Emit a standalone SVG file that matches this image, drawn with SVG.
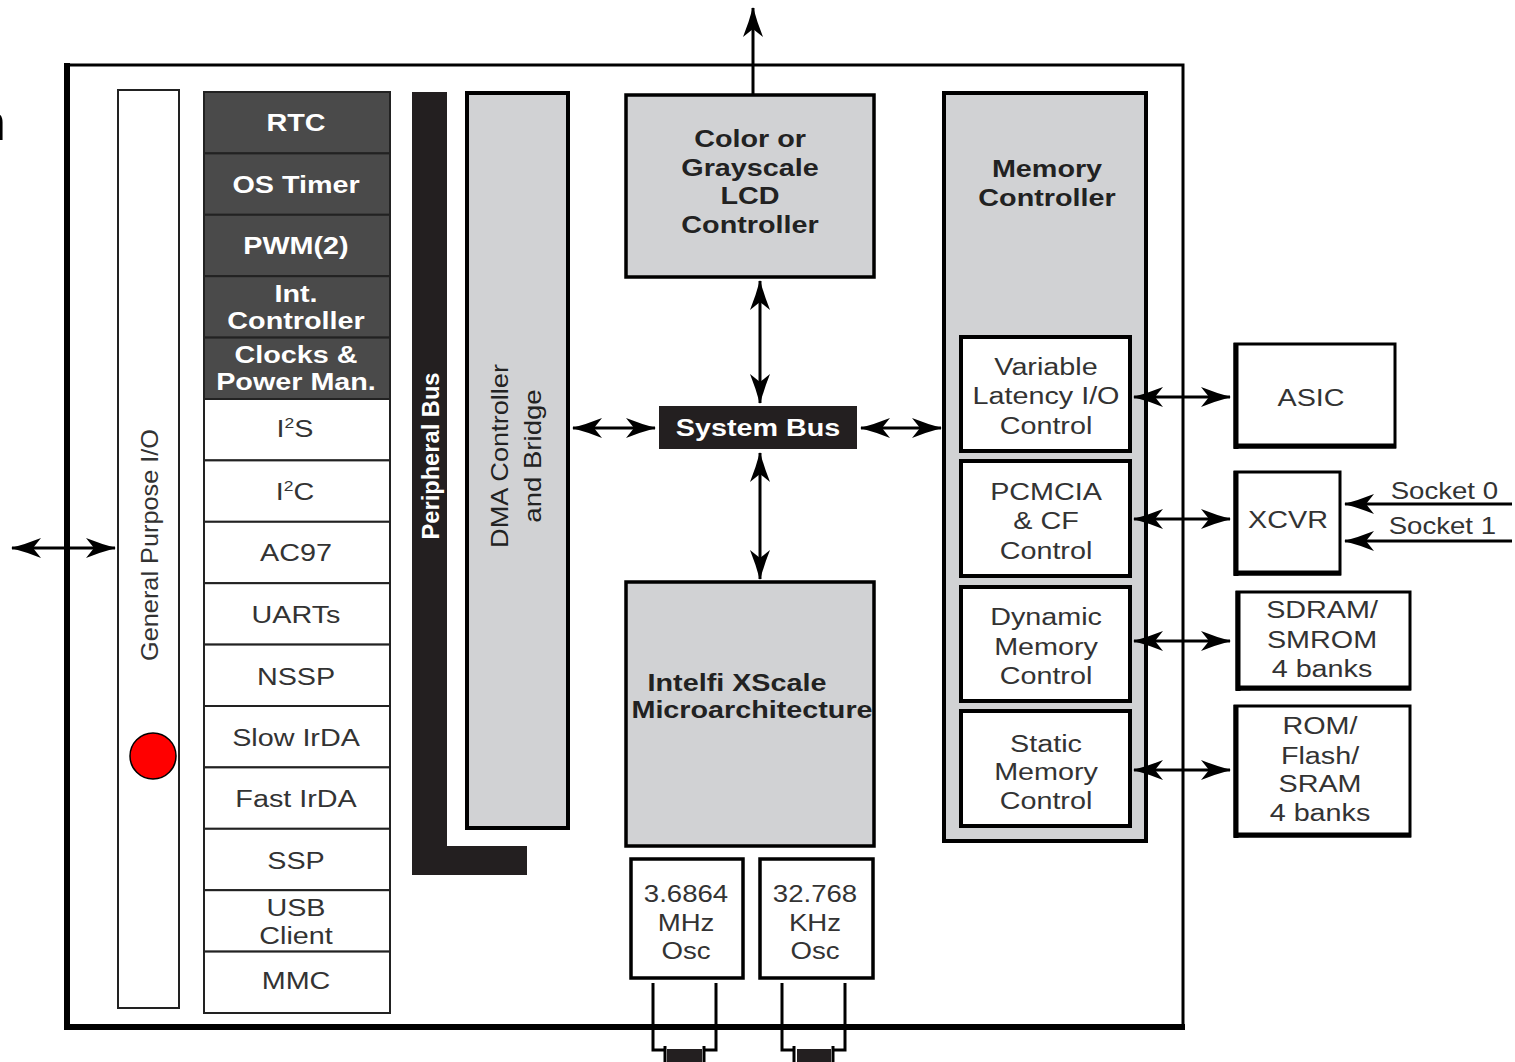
<svg xmlns="http://www.w3.org/2000/svg" width="1515" height="1062" viewBox="0 0 1515 1062">
<style>
text{font-family:"Liberation Sans",Arial,sans-serif;font-size:23px;text-anchor:middle}
.n{fill:#333}
.b{font-weight:bold;fill:#222}
.w{font-weight:bold;fill:#fff}
.dk{fill:#4a4a4a;stroke:#222;stroke-width:2}
.wc{fill:#fff;stroke:#222;stroke-width:2}
.gb{fill:#d1d2d4;stroke:#000;stroke-width:4}
.wb{fill:#fff;stroke:#000;stroke-width:4}
.ln{stroke:#000;stroke-width:3;fill:none}
.ar{stroke:#000;stroke-width:3;fill:none;marker-start:url(#ah);marker-end:url(#ah)}
.ae{stroke:#000;stroke-width:3;fill:none;marker-end:url(#ah)}
</style>
<defs>
<marker id="ah" viewBox="0 0 30 20" refX="29" refY="10" markerWidth="30" markerHeight="20" markerUnits="userSpaceOnUse" orient="auto-start-reverse">
<path d="M0,0 Q15,6 30,10 Q15,14 0,20 L8,10 Z" fill="#000"/>
</marker>
</defs>
<rect width="1515" height="1062" fill="#fff"/>
<text x="-22" y="140" style="font-size:50px;text-anchor:start" fill="#000">n</text>

<g id="outer">
<rect x="67" y="65" width="1116" height="962" fill="none" stroke="#000" stroke-width="3"/>
<line x1="67" y1="63" x2="67" y2="1030" stroke="#000" stroke-width="6"/>
<line x1="65" y1="1027" x2="1185" y2="1027" stroke="#000" stroke-width="6"/>
</g>

<g id="gpio">
<rect x="118" y="90" width="61" height="918" fill="#fff" stroke="#222" stroke-width="2"/>
<text class="n" transform="translate(158,545) rotate(-90) scale(1.1,1)">General Purpose I/O</text>
</g>
<g id="marker-dot"><circle cx="153" cy="756" r="23" fill="#f00" stroke="#000" stroke-width="1.5"/></g>

<g id="rtc"><rect class="dk" x="204" y="92" width="186" height="61.4"/><text class="w" transform="translate(296,131) scale(1.25,1)">RTC</text></g>
<g id="ostimer"><rect class="dk" x="204" y="153.4" width="186" height="61.4"/><text class="w" transform="translate(296,193) scale(1.25,1)">OS Timer</text></g>
<g id="pwm"><rect class="dk" x="204" y="214.8" width="186" height="61.4"/><text class="w" transform="translate(296,254) scale(1.25,1)">PWM(2)</text></g>
<g id="intctrl"><rect class="dk" x="204" y="276.2" width="186" height="61.4"/><text class="w" transform="translate(296,302) scale(1.25,1)">Int.</text><text class="w" transform="translate(296,329) scale(1.25,1)">Controller</text></g>
<g id="clocks"><rect class="dk" x="204" y="337.6" width="186" height="61.4"/><text class="w" transform="translate(296,363) scale(1.25,1)">Clocks &amp;</text><text class="w" transform="translate(296,390) scale(1.25,1)">Power Man.</text></g>
<g id="i2s"><rect class="wc" x="204" y="399" width="186" height="61.4"/><text class="n" transform="translate(295,437) scale(1.25,1)">I<tspan dy="-9" style="font-size:14px">2</tspan><tspan dy="9">S</tspan></text></g>
<g id="i2c"><rect class="wc" x="204" y="460.4" width="186" height="61.4"/><text class="n" transform="translate(295,500) scale(1.25,1)">I<tspan dy="-9" style="font-size:14px">2</tspan><tspan dy="9">C</tspan></text></g>
<g id="ac97"><rect class="wc" x="204" y="521.8" width="186" height="61.4"/><text class="n" transform="translate(296,561) scale(1.25,1)">AC97</text></g>
<g id="uarts"><rect class="wc" x="204" y="583.2" width="186" height="61.4"/><text class="n" transform="translate(296,623) scale(1.25,1)">UARTs</text></g>
<g id="nssp"><rect class="wc" x="204" y="644.6" width="186" height="61.4"/><text class="n" transform="translate(296,685) scale(1.25,1)">NSSP</text></g>
<g id="slowirda"><rect class="wc" x="204" y="706" width="186" height="61.4"/><text class="n" transform="translate(296,746) scale(1.25,1)">Slow IrDA</text></g>
<g id="fastirda"><rect class="wc" x="204" y="767.4" width="186" height="61.4"/><text class="n" transform="translate(296,807) scale(1.25,1)">Fast IrDA</text></g>
<g id="ssp"><rect class="wc" x="204" y="828.8" width="186" height="61.4"/><text class="n" transform="translate(296,869) scale(1.25,1)">SSP</text></g>
<g id="usb"><rect class="wc" x="204" y="890.2" width="186" height="61.4"/><text class="n" transform="translate(296,916) scale(1.25,1)">USB</text><text class="n" transform="translate(296,944) scale(1.25,1)">Client</text></g>
<g id="mmc"><rect class="wc" x="204" y="951.6" width="186" height="61.4"/><text class="n" transform="translate(296,989) scale(1.25,1)">MMC</text></g>

<g id="periphbus">
<path d="M412,92 H447 V846 H527 V875 H412 Z" fill="#231f20"/>
<text class="w" transform="translate(439,456) rotate(-90) scale(1.03,1)">Peripheral Bus</text>
</g>

<g id="dma">
<rect class="gb" x="467" y="93" width="101" height="735"/>
<text transform="translate(508,456) rotate(-90) scale(1.18,1)" fill="#222">DMA Controller</text>
<text transform="translate(541,456) rotate(-90) scale(1.2,1)" fill="#222">and Bridge</text>
</g>

<g id="lcd">
<rect class="gb" x="626" y="95" width="248" height="182" style="stroke-width:3.5"/>
<text class="b" transform="translate(750,147) scale(1.25,1)">Color or</text>
<text class="b" transform="translate(750,176) scale(1.25,1)">Grayscale</text>
<text class="b" transform="translate(750,204) scale(1.25,1)">LCD</text>
<text class="b" transform="translate(750,233) scale(1.25,1)">Controller</text>
</g>

<g id="sysbus">
<rect x="659" y="406" width="198" height="43" fill="#231f20"/>
<text class="w" transform="translate(758,436) scale(1.25,1)">System Bus</text>
</g>

<g id="xscale">
<rect class="gb" x="626" y="582" width="248" height="264" style="stroke-width:3.5"/>
<text class="b" transform="translate(737,691) scale(1.25,1)">Intelfi XScale</text>
<text class="b" transform="translate(752,718) scale(1.25,1)">Microarchitecture</text>
</g>

<g id="osc1">
<rect x="631" y="859" width="112" height="119" fill="#fff" stroke="#000" stroke-width="3.5"/>
<text class="n" transform="translate(686,902) scale(1.2,1)">3.6864</text>
<text class="n" transform="translate(686,931) scale(1.2,1)">MHz</text>
<text class="n" transform="translate(686,959) scale(1.2,1)">Osc</text>
</g>
<g id="osc2">
<rect x="760" y="859" width="113" height="119" fill="#fff" stroke="#000" stroke-width="3.5"/>
<text class="n" transform="translate(815,902) scale(1.2,1)">32.768</text>
<text class="n" transform="translate(815,931) scale(1.2,1)">KHz</text>
<text class="n" transform="translate(815,959) scale(1.2,1)">Osc</text>
</g>
<g id="crystal1">
<path class="ln" d="M653,983 V1050 H664 M716,983 V1050 H705"/>
<rect x="667" y="1049" width="35" height="13" fill="#231f20"/>
<line x1="665" y1="1046" x2="665" y2="1062" stroke="#000" stroke-width="3"/>
<line x1="704" y1="1046" x2="704" y2="1062" stroke="#000" stroke-width="3"/>
</g>
<g id="crystal2">
<path class="ln" d="M782,983 V1050 H793 M845,983 V1050 H834"/>
<rect x="797" y="1049" width="34" height="13" fill="#231f20"/>
<line x1="794" y1="1046" x2="794" y2="1062" stroke="#000" stroke-width="3"/>
<line x1="833" y1="1046" x2="833" y2="1062" stroke="#000" stroke-width="3"/>
</g>

<g id="memctrl">
<rect class="gb" x="944" y="93" width="202" height="748"/>
<text class="b" transform="translate(1047,177) scale(1.25,1)">Memory</text>
<text class="b" transform="translate(1047,206) scale(1.25,1)">Controller</text>
</g>
<g id="vlio"><rect class="wb" x="961" y="337" width="169" height="114"/>
<text class="n" transform="translate(1046,375) scale(1.25,1)">Variable</text><text class="n" transform="translate(1046,404) scale(1.25,1)">Latency I/O</text><text class="n" transform="translate(1046,434) scale(1.25,1)">Control</text></g>
<g id="pcmcia"><rect class="wb" x="961" y="461" width="169" height="115"/>
<text class="n" transform="translate(1046,500) scale(1.25,1)">PCMCIA</text><text class="n" transform="translate(1046,529) scale(1.25,1)">&amp; CF</text><text class="n" transform="translate(1046,559) scale(1.25,1)">Control</text></g>
<g id="dynmem"><rect class="wb" x="961" y="587" width="169" height="114"/>
<text class="n" transform="translate(1046,625) scale(1.25,1)">Dynamic</text><text class="n" transform="translate(1046,655) scale(1.25,1)">Memory</text><text class="n" transform="translate(1046,684) scale(1.25,1)">Control</text></g>
<g id="statmem"><rect class="wb" x="961" y="711" width="169" height="115"/>
<text class="n" transform="translate(1046,752) scale(1.25,1)">Static</text><text class="n" transform="translate(1046,780) scale(1.25,1)">Memory</text><text class="n" transform="translate(1046,809) scale(1.25,1)">Control</text></g>

<g id="asic"><rect x="1235" y="344" width="160" height="103" fill="#fff" stroke="#000" stroke-width="3"/>
<line x1="1236" y1="343" x2="1236" y2="449" stroke="#000" stroke-width="5"/><line x1="1234" y1="446" x2="1396" y2="446" stroke="#000" stroke-width="5"/>
<text class="n" transform="translate(1311,406) scale(1.25,1)">ASIC</text></g>
<g id="xcvr"><rect x="1235" y="472" width="105" height="102" fill="#fff" stroke="#000" stroke-width="3"/>
<line x1="1236" y1="471" x2="1236" y2="576" stroke="#000" stroke-width="5"/><line x1="1234" y1="573" x2="1341" y2="573" stroke="#000" stroke-width="5"/>
<text class="n" transform="translate(1288,528) scale(1.25,1)">XCVR</text></g>
<g id="sdram"><rect x="1237" y="592" width="173" height="97" fill="#fff" stroke="#000" stroke-width="3"/>
<line x1="1238" y1="591" x2="1238" y2="691" stroke="#000" stroke-width="5"/><line x1="1236" y1="688" x2="1411" y2="688" stroke="#000" stroke-width="5"/>
<text class="n" transform="translate(1322,618) scale(1.25,1)">SDRAM/</text><text class="n" transform="translate(1322,648) scale(1.25,1)">SMROM</text><text class="n" transform="translate(1322,677) scale(1.25,1)">4 banks</text></g>
<g id="rom"><rect x="1235" y="706" width="175" height="130" fill="#fff" stroke="#000" stroke-width="3"/>
<line x1="1236" y1="705" x2="1236" y2="838" stroke="#000" stroke-width="5"/><line x1="1234" y1="835" x2="1411" y2="835" stroke="#000" stroke-width="5"/>
<text class="n" transform="translate(1320,734) scale(1.25,1)">ROM/</text><text class="n" transform="translate(1320,764) scale(1.25,1)">Flash/</text><text class="n" transform="translate(1320,792) scale(1.25,1)">SRAM</text><text class="n" transform="translate(1320,821) scale(1.25,1)">4 banks</text></g>

<g id="connectors">
<line class="ae" x1="753" y1="95" x2="753" y2="8"/>
<line class="ar" x1="760" y1="281" x2="760" y2="403"/>
<line class="ar" x1="760" y1="453" x2="760" y2="579"/>
<line class="ar" x1="573" y1="428" x2="655" y2="428"/>
<line class="ar" x1="861" y1="428" x2="941" y2="428"/>
<line class="ar" x1="12" y1="548" x2="115" y2="548"/>
<line class="ar" x1="1134" y1="397" x2="1230" y2="397"/>
<line class="ar" x1="1134" y1="519" x2="1230" y2="519"/>
<line class="ar" x1="1134" y1="641" x2="1230" y2="641"/>
<line class="ar" x1="1134" y1="770" x2="1230" y2="770"/>
<line class="ae" x1="1512" y1="504" x2="1345" y2="504"/>
<line class="ae" x1="1512" y1="541" x2="1345" y2="541"/>
<text class="n" transform="translate(1498,499) scale(1.2,1)" style="text-anchor:end">Socket 0</text>
<text class="n" transform="translate(1496,534) scale(1.2,1)" style="text-anchor:end">Socket 1</text>
</g>
</svg>
